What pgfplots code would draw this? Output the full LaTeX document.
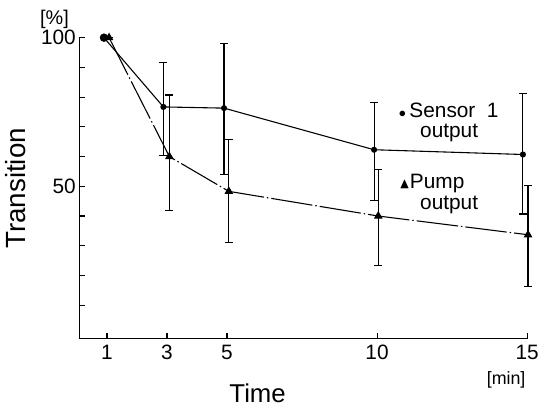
\documentclass[border=0pt]{standalone}
\usepackage{pgfplots}
\pgfplotsset{compat=1.18}
\usepackage{pgfplotstable}
\usepackage{amssymb}
\usepackage{fontspec}
\setmainfont{Liberation Sans}

\pgfplotstableread{
x y ep em
0.90 100 0 0
2.88 76.7 15.0 16.4
4.90 76.3 21.7 22.3
9.90 62.3 16.0 17.0
14.86 60.7 20.6 20.0
}\sensor
\pgfplotstableread{
x y ep em
1.07 100 0 0
3.08 60.0 20.7 18.0
5.06 48.3 17.4 17.3
10.04 40.0 15.7 16.7
15.03 33.7 16.6 17.4
}\pump

\begin{document}
\begin{tikzpicture}
\begin{axis}[
  scale only axis, width=452pt, height=304pt,
  xmin=0.076, xmax=15, ymin=-1.33, ymax=100,
  axis lines=left, axis line style={-, line width=1.1pt},
  xtick={1,3,5,10,15},
  ytick={10,20,30,40,50,60,70,80,90,100},
  yticklabels={,,,,50,,,,,100},
  tick align=inside, major tick length=6pt,
  tick style={line width=1.1pt, black},
  ticklabel style={font=\fontsize{21}{21}\selectfont},
  xticklabel style={yshift=-3pt},
  /pgf/number format/assume math mode=true,
  clip=false,
  error bars/error bar style={line width=1.1pt, draw=black},
  error bars/error mark options={rotate=90, line width=1.1pt, draw=black, mark size=4pt},
]
% sensor
\addplot[black, line width=1.1pt, mark=*, mark size=2.5pt] table[x=x,y=y]{\sensor};
\addplot[black, only marks, mark=*, mark size=4pt] coordinates {(0.90,100)};
\addplot[draw=none, mark=none, error bars/.cd, y dir=both, y explicit]
  table[x=x,y=y,y error plus=ep,y error minus=em, skip first n=1]{\sensor};
% pump
\addplot[black, line width=1.1pt, dash pattern={on 42pt off 3pt on 1.5pt off 3pt}, mark=triangle*, mark size=4pt, mark options={solid}] table[x=x,y=y]{\pump};
\addplot[draw=none, mark=none, error bars/.cd, y dir=both, y explicit]
  table[x=x,y=y,y error plus=ep,y error minus=em, skip first n=1]{\pump};

\node[rotate=90, font=\fontsize{28}{28}\selectfont] at (axis cs:-2.05,49.3) {Transition};
\node[font=\fontsize{26}{26}\selectfont] at (axis cs:6.02,-19.7) {Time};
\node[font=\fontsize{18}{18}\selectfont] at (axis cs:14.3,-15) {[min]};
\node[font=\fontsize{20}{20}\selectfont] at (axis cs:-0.75,106.3) {[\%]};
\node[anchor=west, font=\fontsize{21}{21}\selectfont, inner sep=0pt] at (axis cs:10.72,75.7) {$\scriptstyle\bullet$\,Sensor\ \ 1};
\node[anchor=west, font=\fontsize{21}{21}\selectfont, inner sep=0pt] at (axis cs:11.43,68) {output};
\node[anchor=west, font=\fontsize{21}{21}\selectfont, inner sep=0pt] at (axis cs:10.74,51) {$\scriptstyle\blacktriangle$Pump};
\node[anchor=west, font=\fontsize{21}{21}\selectfont, inner sep=0pt] at (axis cs:11.43,43.7) {output};
\path (axis cs:-2.564,-25) rectangle (axis cs:15.32,112.67);
\end{axis}
\end{tikzpicture}
\end{document}
